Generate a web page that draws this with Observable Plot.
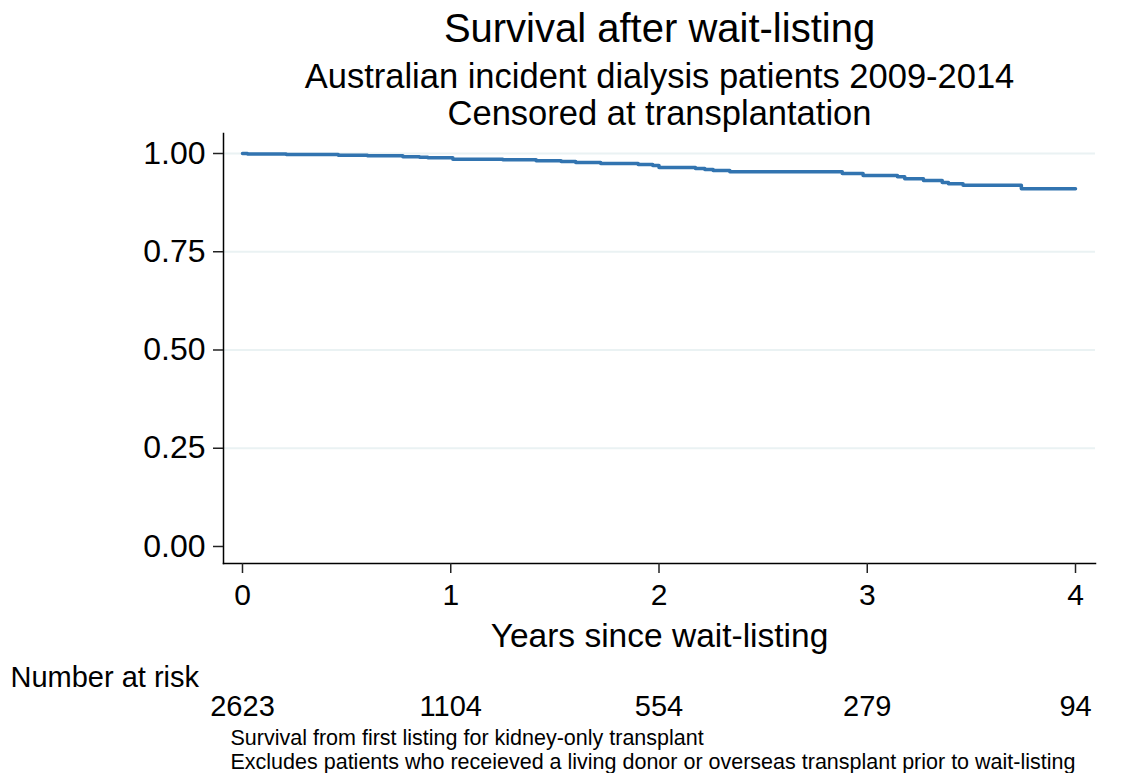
<!DOCTYPE html>
<html>
<head>
<meta charset="utf-8">
<script src="https://cdn.jsdelivr.net/npm/d3@7"></script>
<script src="https://cdn.jsdelivr.net/npm/@observablehq/plot@0.6"></script>
<style>
  html, body { margin: 0; padding: 0; background: #ffffff; }
  #chart svg { display: block; }
</style>
</head>
<body>
<div id="chart"></div>
<script>
// Kaplan–Meier step estimates
const years    = [0, 0.024, 0.21, 0.46, 0.60, 0.77, 0.85, 0.89, 1.01, 1.25, 1.41, 1.53, 1.60, 1.72, 1.90, 1.97, 2.00, 2.175, 2.22, 2.26, 2.34, 2.88, 2.98, 3.145, 3.18, 3.27, 3.36, 3.39, 3.46, 3.74, 4.00];
const survival = [1.000, 0.999, 0.9975, 0.9957, 0.994, 0.992, 0.9906, 0.989, 0.9855, 0.984, 0.9814, 0.9796, 0.977, 0.9746, 0.972, 0.9695, 0.9644, 0.9618, 0.959, 0.9567, 0.9534, 0.949, 0.944, 0.9407, 0.9356, 0.9313, 0.926, 0.923, 0.919, 0.910, 0.910];

const xTicks = [0, 1, 2, 3, 4];
const yTicks = [0, 0.25, 0.5, 0.75, 1];
const gridTicks = [0.25, 0.5, 0.75, 1];
const atRisk = [2623, 1104, 554, 279, 94];

const title = "Survival after wait-listing";
const subtitle1 = "Australian incident dialysis patients 2009-2014";
const subtitle2 = "Censored at transplantation";
const xLabel = "Years since wait-listing";
const riskLabel = "Number at risk";
const note1 = "Survival from first listing for kidney-only transplant";
const note2 = "Excludes patients who receieved a living donor or overseas transplant prior to wait-listing";

const curve = years.map((t, i) => ({t, s: survival[i]}));
const riskRows = xTicks.map((t, i) => ({t, n: String(atRisk[i])}));

const font = "'Liberation Sans', Arial, Helvetica, sans-serif";

const chart = Plot.plot({
  width: 1135,
  height: 773,
  marginLeft: 223,
  marginRight: 40,
  marginTop: 133,
  marginBottom: 210,
  style: {fontFamily: font, color: "#000", background: "#fff", overflow: "visible"},
  x: {domain: [-0.0912, 4.096]},
  y: {domain: [-0.0433, 1.0509]},
  marks: [
    Plot.gridY(gridTicks, {stroke: "#eaf2f3", strokeOpacity: 1, strokeWidth: 2}),
    Plot.line(curve, {x: "t", y: "s", curve: "step-after", stroke: "#3274b0", strokeWidth: 3.5}),
    Plot.frame({anchor: "left", stroke: "#000", strokeWidth: 1.5}),
    Plot.frame({anchor: "bottom", stroke: "#000", strokeWidth: 1.5}),
    Plot.axisY(yTicks, {tickFormat: d3.format(".2f"), tickSize: 10, tickPadding: 8, fontSize: 32, stroke: "#222", strokeWidth: 1.5, label: null}),
    Plot.axisX(xTicks, {tickFormat: d3.format("d"), tickSize: 10, tickPadding: 10, fontSize: 30, stroke: "#222", strokeWidth: 1.5, label: null}),
    // titles
    Plot.text([title], {frameAnchor: "top", text: d => d, dy: 41 - 133, lineAnchor: "bottom", fontSize: 40}),
    Plot.text([subtitle1], {frameAnchor: "top", text: d => d, dy: 87 - 133, lineAnchor: "bottom", fontSize: 34.5}),
    Plot.text([subtitle2], {frameAnchor: "top", text: d => d, dy: 124 - 133, lineAnchor: "bottom", fontSize: 34.5}),
    // x axis label
    Plot.text([xLabel], {frameAnchor: "bottom", text: d => d, dy: 646 - 563, lineAnchor: "bottom", fontSize: 33.5}),
    // number at risk
    Plot.text([riskLabel], {frameAnchor: "bottom-left", text: d => d, dx: 10 - 223, dy: 686 - 563, lineAnchor: "bottom", textAnchor: "start", fontSize: 29}),
    Plot.text(riskRows, {x: "t", text: "n", frameAnchor: "bottom", dy: 715 - 563, lineAnchor: "bottom", fontSize: 29}),
    // footnotes
    Plot.text([note1], {frameAnchor: "bottom-left", text: d => d, dx: 7, dy: 744 - 563, lineAnchor: "bottom", textAnchor: "start", fontSize: 21.5}),
    Plot.text([note2], {frameAnchor: "bottom-left", text: d => d, dx: 7, dy: 768 - 563, lineAnchor: "bottom", textAnchor: "start", fontSize: 21.5})
  ]
});
document.getElementById("chart").appendChild(chart);
</script>
</body>
</html>
